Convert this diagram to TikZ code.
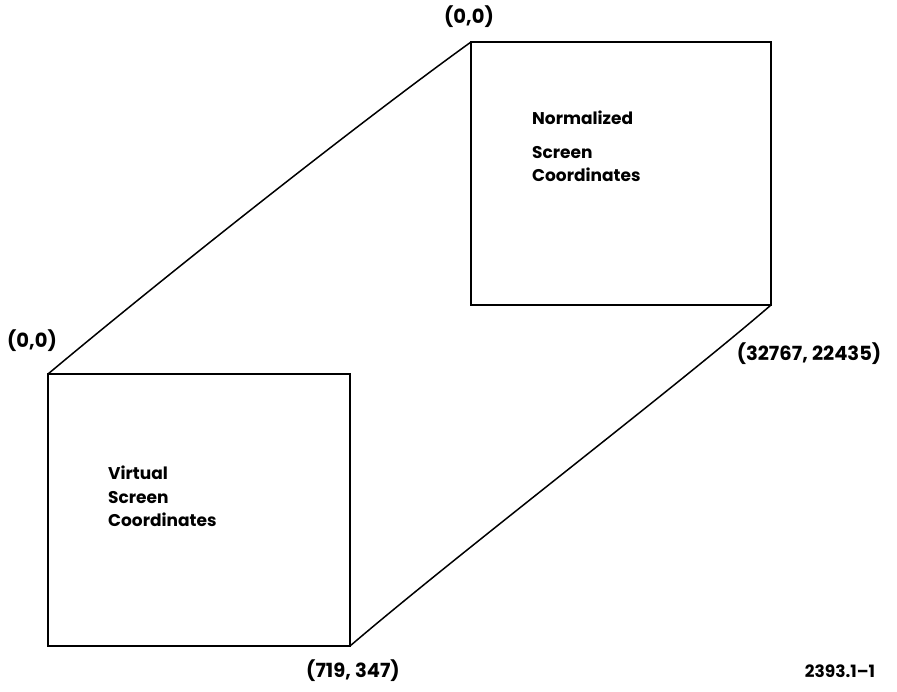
\documentclass[tikz,border=0pt]{standalone}
\usepackage{fontspec}
\setmainfont{Poppins}
\begin{document}
\begin{tikzpicture}[x=1pt,y=-1pt,
  frame/.style={draw=black,line width=2pt},
  link/.style={draw=black,line width=1.5pt},
  lbl/.style={font=\fontsize{19.5}{19.5}\selectfont\bfseries,inner sep=0pt},
  inner/.style={font=\fontsize{17}{23.5}\selectfont\bfseries,align=left,inner sep=0pt,anchor=north west}]
\useasboundingbox (0,0) rectangle (897,692);
% the two coordinate spaces
\draw[frame] (471,42) rectangle (771,305);
\draw[frame] (48,374) rectangle (350,646);
\coordinate (ntl) at (471,42);
\coordinate (nbr) at (771,305);
\coordinate (vtl) at (48,374);
\coordinate (vbr) at (350,646);
% corner-to-corner mapping lines
\draw[link] (vtl) .. controls (170,272) and (360,122) .. (ntl);
\draw[link] (vbr) .. controls (460,552) and (675,388) .. (nbr);
% box texts
\node[inner] (ntext) at (532,111) {Normalized\\[10pt]Screen\\Coordinates};
\node[inner] (vtext) at (108,466) {Virtual\\Screen\\Coordinates};
% corner labels
\node[lbl] (l1) at (469,17) {(0,0)};
\node[lbl] (l2) at (32,341) {(0,0)};
\node[lbl] (l3) at (809,354) {(32767, 22435)};
\node[lbl] (l4) at (353,671) {(719, 347)};
\node[lbl,font=\fontsize{17}{17}\selectfont\bfseries] (fig) at (840,671) {2393.1--1};
\end{tikzpicture}
\end{document}
